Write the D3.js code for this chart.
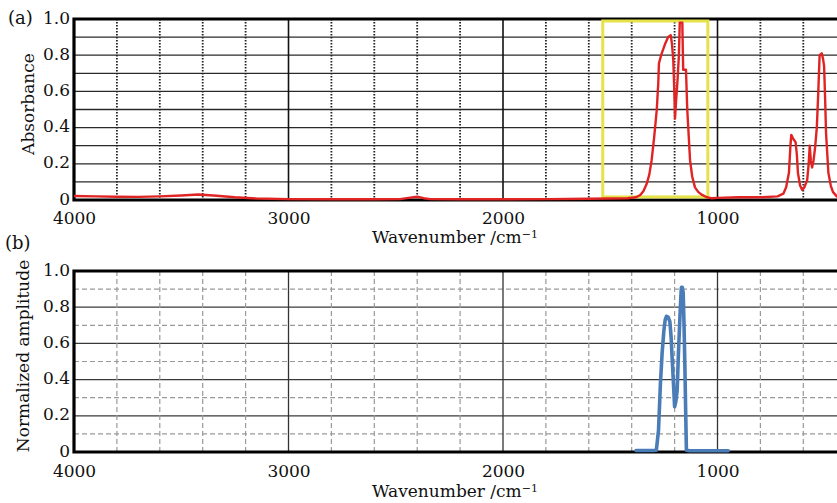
<!DOCTYPE html>
<html>
<head>
<meta charset="utf-8">
<script src="https://cdn.jsdelivr.net/npm/d3@7"></script>
<style>
  body { margin: 0; background: #fff; }
</style>
</head>
<body>
<div id="chart"></div>
<script>
// Define SVG area dimensions
var svgWidth = 837;
var svgHeight = 503;
var serif = "'DejaVu Serif', 'Liberation Serif', serif";

// Tick values / labels
var xTicks = [4000, 3000, 2000, 1000];
var xMinor = [3800, 3600, 3400, 3200, 2800, 2600, 2400, 2200, 1800, 1600, 1400, 1200, 800, 600, 400, 200];
var yTicks = [0, 0.2, 0.4, 0.6, 0.8, 1.0];
var yTickLabels = ["0", "0.2", "0.4", "0.6", "0.8", "1.0"];
var yMinor = [0.1, 0.3, 0.5, 0.7, 0.9];

// (a) absorbance spectrum
var absWavenumber = [4000, 3900, 3800, 3700, 3600, 3500, 3420, 3350, 3250, 3150, 3000, 2800, 2600, 2480, 2440, 2400, 2370, 2340, 2200, 2000, 1800, 1600, 1500, 1420, 1380, 1360, 1345, 1330, 1318, 1307, 1295, 1283, 1276, 1273, 1265, 1260, 1245, 1230, 1218, 1212, 1206, 1200, 1198, 1193, 1187, 1180, 1176, 1164, 1160, 1147, 1141, 1134, 1128, 1118, 1105, 1090, 1074, 1050, 1030, 1000, 900, 800, 720, 693, 680, 667, 660, 656, 648, 636, 630, 625, 615, 605, 595, 582, 575, 570, 565, 559, 552, 545, 537, 530, 524, 514, 508, 503, 498, 494, 488, 483, 472, 462, 444, 420, 400];
var absValue = [0.022, 0.02, 0.018, 0.017, 0.02, 0.025, 0.03, 0.025, 0.015, 0.008, 0.005, 0.004, 0.004, 0.005, 0.012, 0.018, 0.01, 0.005, 0.004, 0.004, 0.005, 0.007, 0.008, 0.01, 0.015, 0.028, 0.05, 0.09, 0.14, 0.22, 0.35, 0.5, 0.65, 0.755, 0.79, 0.81, 0.86, 0.9, 0.91, 0.86, 0.77, 0.55, 0.45, 0.55, 0.65, 0.8, 0.98, 0.98, 0.72, 0.72, 0.5, 0.35, 0.22, 0.13, 0.07, 0.045, 0.03, 0.015, 0.01, 0.012, 0.015, 0.015, 0.02, 0.035, 0.07, 0.15, 0.3, 0.36, 0.34, 0.32, 0.25, 0.15, 0.08, 0.055, 0.07, 0.11, 0.2, 0.3, 0.22, 0.18, 0.22, 0.29, 0.4, 0.6, 0.8, 0.81, 0.78, 0.74, 0.55, 0.37, 0.25, 0.15, 0.08, 0.045, 0.02, 0.012, 0.01];

// highlighted band in (a)
var bandWavenumber = [1535, 1045];
var bandValue = [0.017, 0.989];

// (b) normalized amplitude
var ampWavenumber = [1380, 1340, 1300, 1285, 1275, 1266, 1258, 1250, 1244, 1238, 1230, 1222, 1216, 1211, 1205, 1200, 1194, 1188, 1182, 1175, 1170, 1168, 1164, 1160, 1156, 1152, 1148, 1145, 1130, 1050, 950];
var ampValue = [0.008, 0.008, 0.008, 0.01, 0.12, 0.38, 0.55, 0.67, 0.73, 0.75, 0.745, 0.72, 0.63, 0.51, 0.37, 0.25, 0.28, 0.34, 0.55, 0.75, 0.88, 0.91, 0.91, 0.88, 0.7, 0.47, 0.2, 0.01, 0.007, 0.007, 0.007];

var svg = d3.select("#chart")
    .append("svg")
    .attr("width", svgWidth)
    .attr("height", svgHeight);

// shared x scale (the plot runs past the right edge of the picture)
var xScale = d3.scaleLinear().domain([4000, 0]).range([74, 932]);

function drawPanel(cfg) {
    var yScale = d3.scaleLinear().domain([0, 1]).range([cfg.bottom, cfg.top]);
    var g = svg.append("g");

    // horizontal grid
    var hLines = cfg.style === "a" ? yMinor.concat([0.2, 0.4, 0.6, 0.8]) : [0.2, 0.4, 0.6, 0.8];
    if (cfg.style === "b") {
        g.selectAll(".hminor")
          .data(yMinor)
          .enter().append("line")
          .attr("x1", xScale(4000)).attr("x2", svgWidth)
          .attr("y1", d => yScale(d)).attr("y2", d => yScale(d))
          .attr("stroke", "#9a9a9a").attr("stroke-width", 1.2)
          .attr("stroke-dasharray", "5,3");
    }
    g.selectAll(".hmajor")
      .data(hLines)
      .enter().append("line")
      .attr("x1", xScale(4000)).attr("x2", svgWidth)
      .attr("y1", d => yScale(d)).attr("y2", d => yScale(d))
      .attr("stroke", cfg.style === "a" ? "#2a2a2a" : "#3a3a3a")
      .attr("stroke-width", 1.3);

    // vertical grid
    g.selectAll(".vminor")
      .data(xMinor)
      .enter().append("line")
      .attr("x1", d => xScale(d)).attr("x2", d => xScale(d))
      .attr("y1", cfg.top).attr("y2", cfg.bottom)
      .attr("stroke", cfg.style === "a" ? "#222" : "#9a9a9a")
      .attr("stroke-width", cfg.style === "a" ? 1.8 : 1.2)
      .attr("stroke-dasharray", cfg.style === "a" ? "1.5,1.5" : "5,3");
    g.selectAll(".vmajor")
      .data(xTicks.slice(1))
      .enter().append("line")
      .attr("x1", d => xScale(d)).attr("x2", d => xScale(d))
      .attr("y1", cfg.top).attr("y2", cfg.bottom)
      .attr("stroke", cfg.style === "a" ? "#111" : "#333")
      .attr("stroke-width", cfg.style === "a" ? 1.6 : 1.3);

    // frame: left, top and bottom
    g.append("path")
      .attr("d", `M${svgWidth},${cfg.top}H${xScale(4000)}V${cfg.bottom}H${svgWidth}`)
      .attr("fill", "none")
      .attr("stroke", "#000")
      .attr("stroke-width", 3.2);

    // axes
    var bottomAxis = d3.axisBottom(xScale).tickValues(xTicks).tickSize(0).tickFormat(d3.format("d"));
    var leftAxis = d3.axisLeft(yScale).tickValues(yTicks).tickSize(0).tickPadding(4)
        .tickFormat((d, i) => yTickLabels[i]);

    var xg = g.append("g")
      .attr("transform", `translate(0, ${cfg.bottom})`)
      .call(bottomAxis);
    xg.select(".domain").remove();
    xg.attr("font-family", serif).attr("font-size", 17);
    xg.selectAll("text")
      .attr("y", cfg.xTickY).attr("dy", null)
      .attr("fill", "#111");

    var yg = g.append("g")
      .attr("transform", `translate(${xScale(4000)}, 0)`)
      .call(leftAxis);
    yg.select(".domain").remove();
    yg.attr("font-family", serif).attr("font-size", 17);
    yg.selectAll("text")
      .attr("dy", "0.24em")
      .attr("fill", "#111");

    // titles
    var xt = g.append("text")
      .attr("x", 455).attr("y", cfg.xTitleY)
      .attr("text-anchor", "middle")
      .attr("font-family", serif)
      .attr("font-size", 17)
      .attr("fill", "#111")
      .text("Wavenumber /cm");
    xt.append("tspan")
      .attr("dy", "-0.45em")
      .attr("font-size", 11)
      .text("\u22121");

    g.append("text")
      .attr("transform", `translate(${cfg.yTitleX}, ${cfg.yTitleC}) rotate(-90)`)
      .attr("text-anchor", "middle")
      .attr("font-family", serif)
      .attr("font-size", 17)
      .attr("fill", "#111")
      .text(cfg.yTitle);

    g.append("text")
      .attr("x", cfg.tagX).attr("y", cfg.tagY)
      .attr("font-family", serif)
      .attr("font-size", 18)
      .attr("fill", "#111")
      .text(cfg.tag);

    return yScale;
}

var yA = drawPanel({
    style: "a", top: 19, bottom: 200, xTickY: 24, xTitleY: 243,
    yTitle: "Absorbance", yTitleX: 34, yTitleC: 104, tag: "(a)", tagX: 8, tagY: 24
});

var yB = drawPanel({
    style: "b", top: 271, bottom: 452, xTickY: 25, xTitleY: 497,
    yTitle: "Normalized amplitude", yTitleX: 29, yTitleC: 356, tag: "(b)", tagX: 5, tagY: 249
});

// yellow band in (a)
svg.append("rect")
  .attr("x", xScale(bandWavenumber[0]))
  .attr("y", yA(bandValue[1]))
  .attr("width", xScale(bandWavenumber[1]) - xScale(bandWavenumber[0]))
  .attr("height", yA(bandValue[0]) - yA(bandValue[1]))
  .attr("fill", "none")
  .attr("stroke", "#e6e24a")
  .attr("stroke-width", 3);

// red absorbance line
var absLine = d3.line()
    .x((d, i) => xScale(absWavenumber[i]))
    .y((d, i) => yA(absValue[i]));
svg.append("path")
  .attr("d", absLine(absWavenumber))
  .attr("fill", "none")
  .attr("stroke", "#e02424")
  .attr("stroke-width", 2.4)
  .attr("stroke-linejoin", "round");

// blue amplitude line
var ampLine = d3.line()
    .x((d, i) => xScale(ampWavenumber[i]))
    .y((d, i) => yB(ampValue[i]));
svg.append("path")
  .attr("d", ampLine(ampWavenumber))
  .attr("fill", "none")
  .attr("stroke", "#4a7db8")
  .attr("stroke-width", 3.6)
  .attr("stroke-linejoin", "round")
  .attr("stroke-linecap", "round");
</script>
</body>
</html>
